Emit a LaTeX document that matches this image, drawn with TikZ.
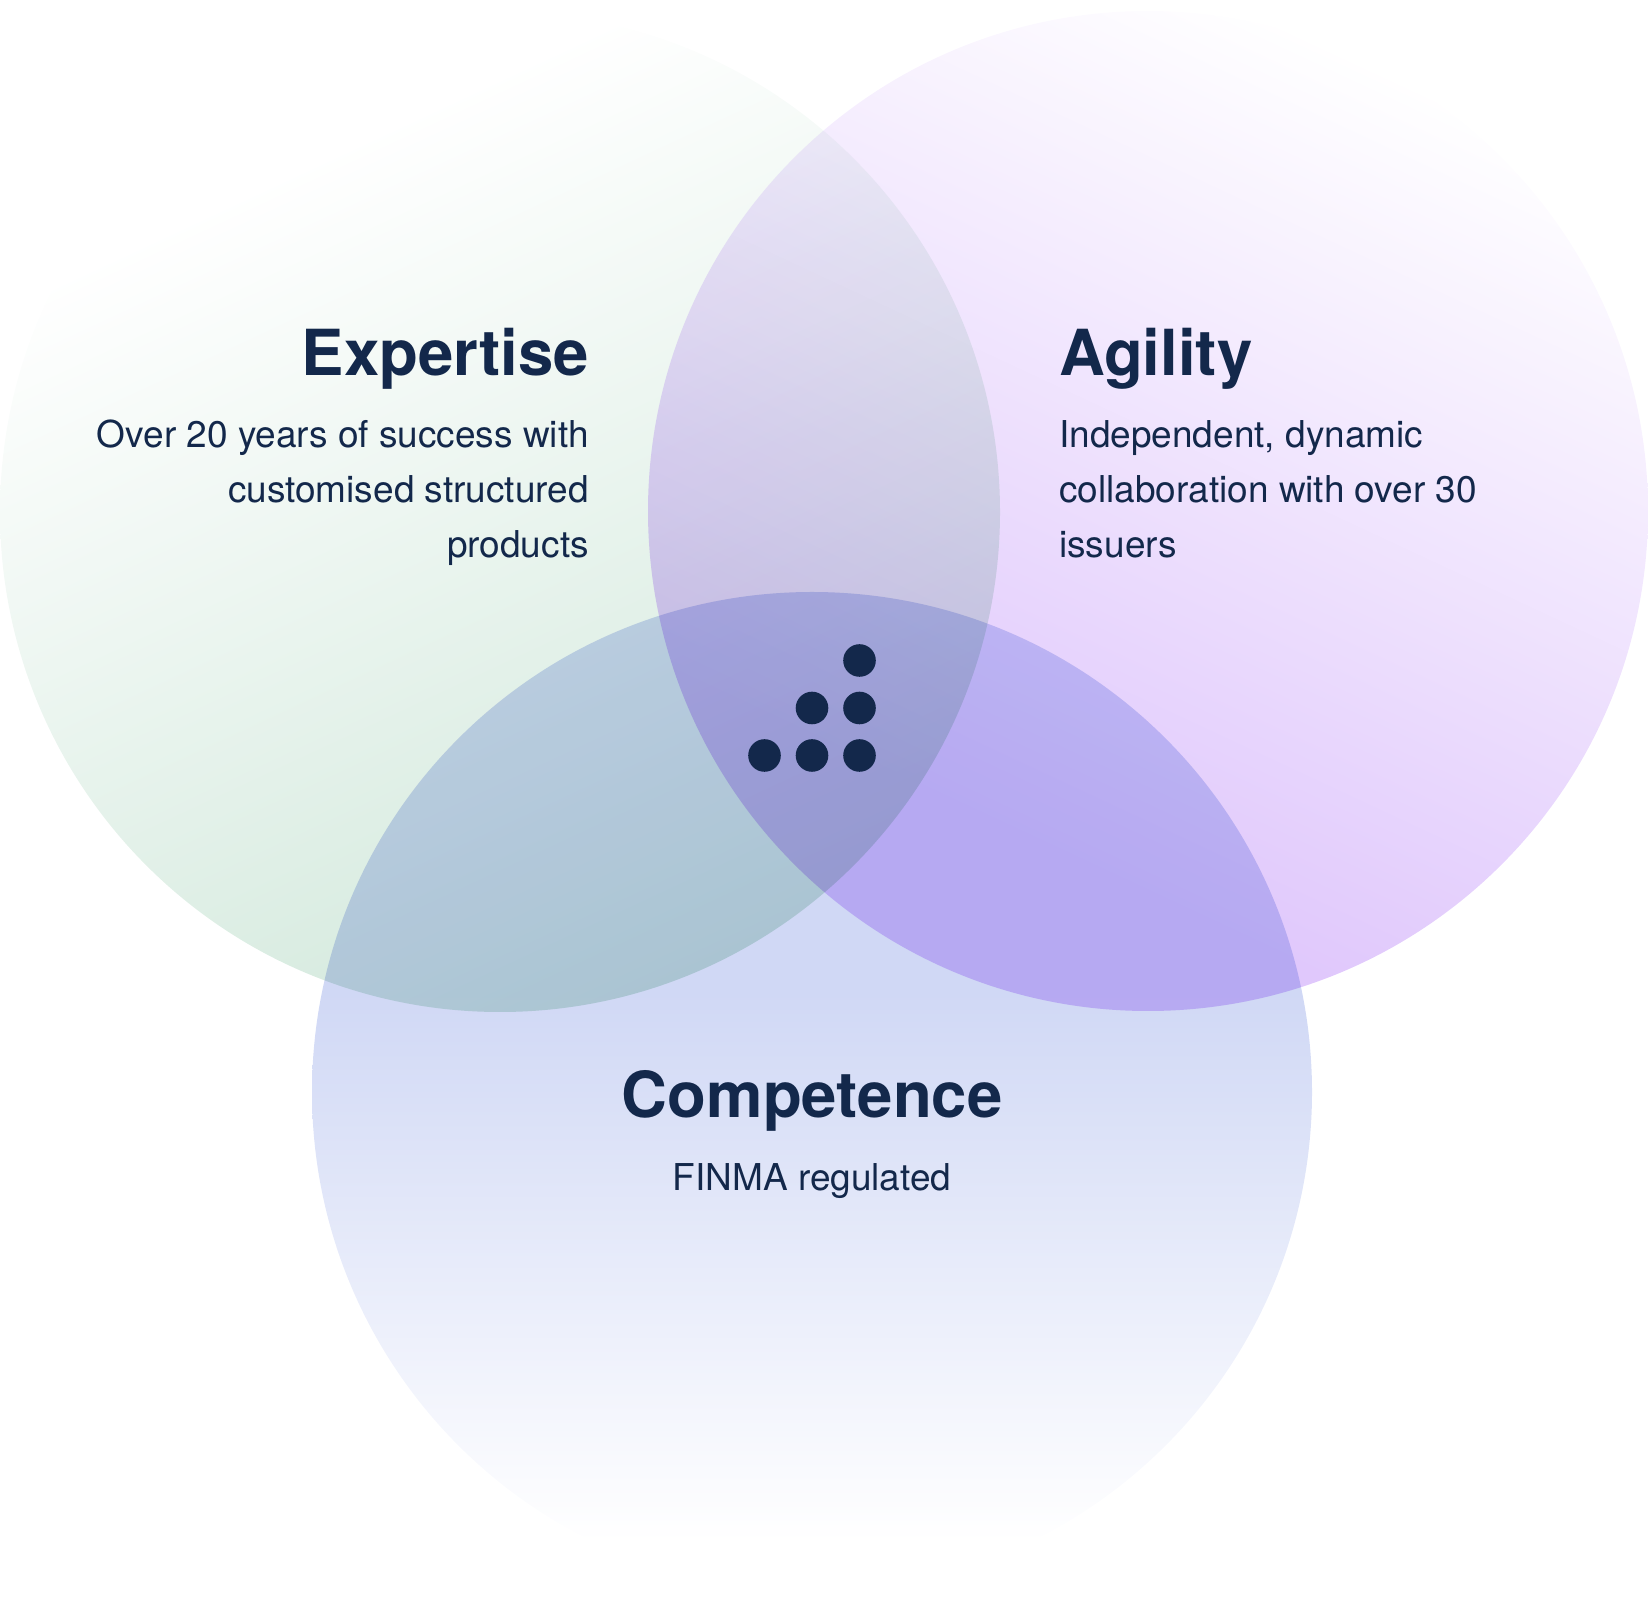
\documentclass[tikz,border=0pt]{standalone}
\usepackage{fontspec}
\setmainfont{TeX Gyre Heros}
\usetikzlibrary{positioning}

\definecolor{navy}{HTML}{13284B}
\definecolor{expgreen}{HTML}{D1E8DB}
\definecolor{agipurple}{HTML}{E0C8FC}
\definecolor{compblue}{HTML}{D0D8F5}
\pgfdeclareverticalshading{expfade}{100bp}{color(0bp)=(expgreen); color(25bp)=(expgreen);
  color(70bp)=(white); color(100bp)=(white)}
\pgfdeclareverticalshading{agifade}{100bp}{color(0bp)=(agipurple); color(32.5bp)=(agipurple);
  color(75bp)=(white); color(100bp)=(white)}
\pgfdeclareverticalshading{compfade}{100bp}{color(0bp)=(white); color(27.5bp)=(white);
  color(55bp)=(compblue); color(100bp)=(compblue)}

\begin{document}
\begin{tikzpicture}[x=1pt,y=1pt,node distance=47.5pt,
 title node/.style={font=\fontsize{63.5}{70}\selectfont\bfseries, text=navy, inner sep=0pt},
 text node/.style={font=\fontsize{37}{55}\selectfont, text=navy, inner sep=0pt},
 dot node/.style={circle, fill=navy, minimum size=32.6pt, inner sep=0pt}]
  \useasboundingbox (0,0) rectangle (1648,1610);

  % the three circles
  \begin{scope}[blend mode=multiply]
    \shade[shading=expfade, shading angle=25] (500,1098) circle[radius=500];
    \shade[shading=agifade, shading angle=-25] (1148,1099) circle[radius=500];
    \shade[shading=compfade] (812,518) circle[radius=500];
  \end{scope}

  % logo
  \node[dot node] (d1) at (764.5,854.5) {};
  \node[dot node] (d2) [right of=d1] {};
  \node[dot node] (d3) [right of=d2] {};
  \node[dot node] (d4) [above of=d2] {};
  \node[dot node] (d5) [above of=d3] {};
  \node[dot node] (d6) [above of=d5] {};

  % labels
  \node[title node, anchor=base east] (expertise) at (589,1234) {Expertise};
  \node[text node, anchor=base east, align=right] (exptext) at (589,1052)
    {Over 20 years of success with\\customised structured\\products};
  \node[title node, anchor=base west] (agility) at (1059,1234) {Agility};
  \node[text node, anchor=base west, align=left] (agitext) at (1059,1052)
    {Independent, dynamic\\collaboration with over 30\\issuers};
  \node[title node, anchor=base] (competence) at (812,493) {Competence};
  \node[text node, anchor=base] (comptext) at (812,420) {FINMA regulated};
\end{tikzpicture}
\end{document}
